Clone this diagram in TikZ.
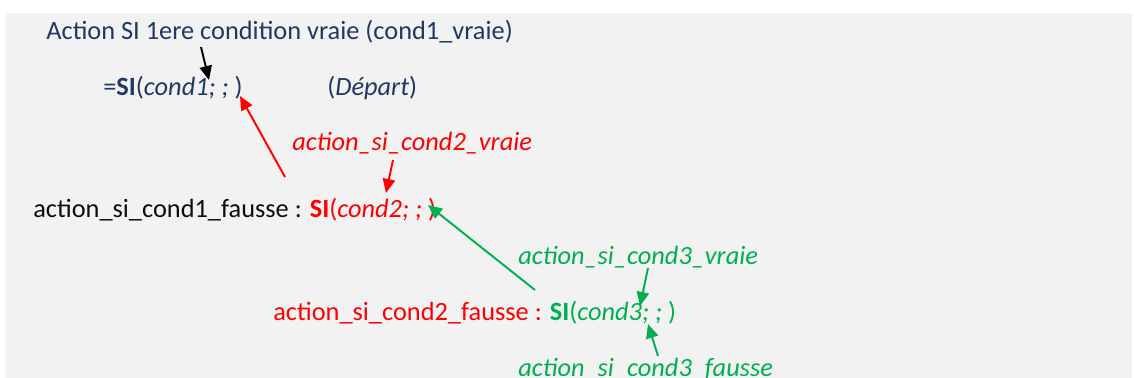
\documentclass[tikz,border=0pt]{standalone}
\usepackage{fontspec}
\setmainfont{Carlito}
\usetikzlibrary{arrows.meta}
\definecolor{navy}{HTML}{203864}
\definecolor{rouge}{HTML}{FF0000}
\definecolor{vert}{HTML}{00B050}
\definecolor{fond}{HTML}{F2F2F2}
\begin{document}
\begin{tikzpicture}[x=0.02cm,y=-0.02cm,>={Triangle[length=8pt,width=7pt]},
            txt/.style={anchor=base west,inner sep=0pt,font=\fontsize{15}{18}\selectfont},
            fl/.style={->,line width=1.1pt}]
            \useasboundingbox (0,0) rectangle (1134,378);
            \fill[fond] (5,13) rectangle (1132,378);
            % lignes de texte
            \node[txt,navy] (titre) at (46,40) {Action SI 1ere condition vraie (cond1\_vraie)};
            \node[txt,navy] (si1) at (103,96) {=\textbf{SI}(\textit{cond1; ; })};
            \node[txt,navy] (depart) at (327,96) {(\textit{Départ})};
            \node[txt,rouge] (vrai2) at (292,151) {\textit{action\_si\_cond2\_vraie}};
            \node[txt,black!95] (si2) at (33,218) {action\_si\_cond1\_fausse : \textcolor{rouge}{\textbf{SI}(\textit{cond2; ; })}};
            \node[txt,vert] (vrai3) at (518,265) {\textit{action\_si\_cond3\_vraie}};
            \node[txt,rouge] (si3) at (273,321) {action\_si\_cond2\_fausse : \textcolor{vert}{\textbf{SI}(\textit{cond3; ; })}};
            \node[txt,vert] (faux3) at (518,377) {\textit{action\_si\_cond3\_fausse}};
            % bouts des fleches
            \coordinate (p1) at (209,80);
            \coordinate (p2) at (240,96);
            \coordinate (p3) at (386,193);
            \coordinate (p4) at (428,205);
            \coordinate (p5) at (640,306);
            \coordinate (p6) at (648,324);
            \draw[fl,black] (201,47) -- (p1);
            \draw[fl,rouge] (285,177) -- (p2);
            \draw[fl,rouge] (393,160) -- (p3);
            \draw[fl,vert] (535,290) -- (p4);
            \draw[fl,vert] (648,268) -- (p5);
            \draw[fl,vert] (658,356) -- (p6);
        \end{tikzpicture}
\end{document}
